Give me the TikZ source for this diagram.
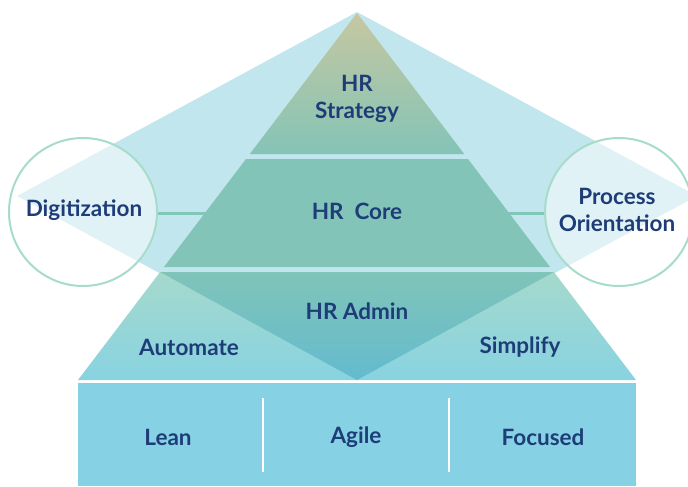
\documentclass[tikz,border=0pt]{standalone}
\usepackage{fontspec}
\setmainfont{Lato}
\usetikzlibrary{calc}
\definecolor{diam}{HTML}{C2E6EE}
\definecolor{stratTop}{HTML}{C6C7A0}
\definecolor{stratBot}{HTML}{84C4B7}
\definecolor{coreCol}{HTML}{82C4B8}
\definecolor{adminTop}{HTML}{80C4B9}
\definecolor{adminBot}{HTML}{63BBCE}
\definecolor{sideTop}{HTML}{A5D9CC}
\definecolor{sideBot}{HTML}{88D3E1}
\definecolor{rectCol}{HTML}{86D2E4}
\definecolor{circCol}{HTML}{A7DCCB}
\definecolor{connCol}{HTML}{82C5B9}
\definecolor{textblue}{HTML}{1E3D78}
\begin{document}
\begin{tikzpicture}[x=1pt,y=-1pt,
  txt/.style={text=textblue, font=\bfseries\fontsize{22.5}{27}\selectfont, align=center, inner sep=0pt},
  ring/.style={circle, minimum size=148pt, inner sep=0pt, draw=circCol, line width=2pt, fill=white, fill opacity=0.5},
  conn/.style={draw=connCol, line width=3pt},
  sep/.style={draw=white, line width=1.5pt}]
\useasboundingbox (0,0) rectangle (688,487);
\begin{scope}
\clip (0,0) rectangle (688,487);
% background diamond
\fill[diam] (357,12) -- (17,196) -- (357,380) -- (697,196) -- cycle;
% circle nodes (positions) and connectors
\coordinate (cL) at (83,212);
\coordinate (cR) at (619,212);
\coordinate (pyrL) at (230,213);
\coordinate (pyrR) at (484,213);
\draw[conn] ($(cL)+(74,1)$) -- (pyrL);
\draw[conn] (pyrR) -- ($(cR)+(-74,1)$);
% pyramid
\shade[top color=stratTop, bottom color=stratBot] (357,13) -- (464.2,154) -- (249.8,154) -- cycle;
\fill[coreCol] (246,159) -- (468,159) -- (550.1,267) -- (163.9,267) -- cycle;
\shade[top color=sideTop, bottom color=sideBot] (160.1,272) -- (553.9,272) -- (636,380) -- (78,380) -- cycle;
\shade[top color=adminTop, bottom color=adminBot] (160.1,272) -- (553.9,272) -- (357,380) -- cycle;
% bottom bar
\fill[rectCol] (78,383) rectangle (636,486);
\coordinate (s1t) at (263,398); \coordinate (s1b) at (263,472);
\coordinate (s2t) at (449,398); \coordinate (s2b) at (449,472);
\draw[sep] (s1t) -- (s1b);
\draw[sep] (s2t) -- (s2b);
% circles
\node[ring] (ringL) at (cL) {};
\node[ring] (ringR) at (cR) {};
\end{scope}
% texts
\node[txt] (strategy) at (357,99) {HR\\Strategy};
\node[txt] (core) at (357,211) {HR\ \ Core};
\node[txt] (admin) at (357,311) {HR Admin};
\node[txt] (automate) at (189,347) {Automate};
\node[txt] (simplify) at (520,347) {Simplify};
\node[txt] (lean) at (168,437) {Lean};
\node[txt] (agile) at (356,437) {Agile};
\node[txt] (focused) at (543,437) {Focused};
\node[txt] (digit) at (84,210) {Digitization};
\node[txt] (process) at (617,210) {Process\\Orientation};
\end{tikzpicture}
\end{document}
